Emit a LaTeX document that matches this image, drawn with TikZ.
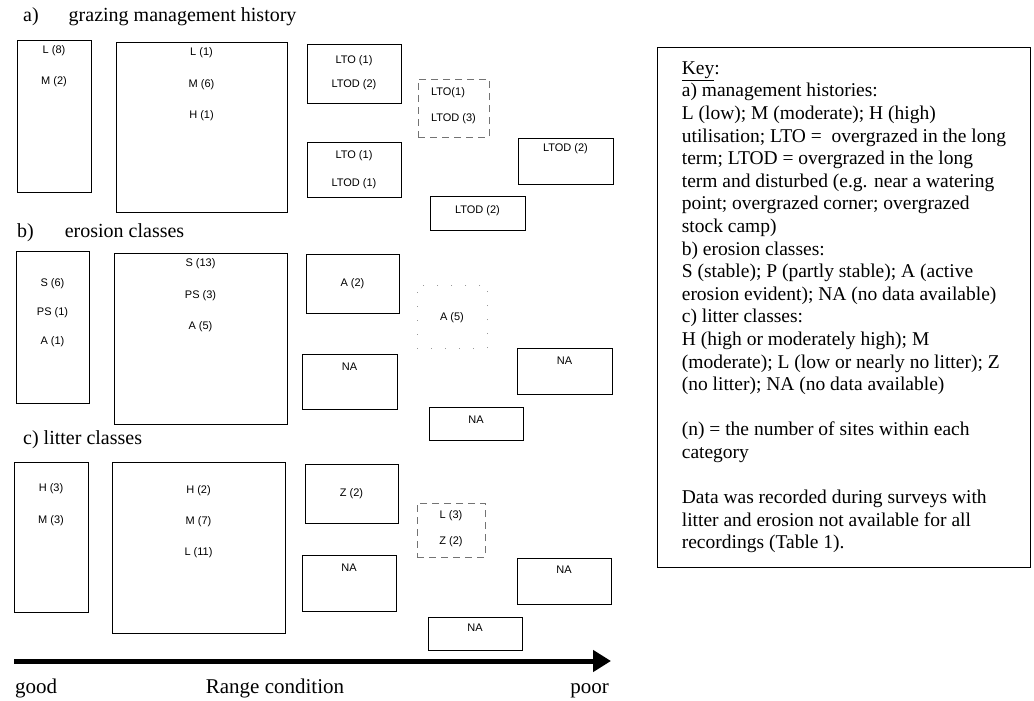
\documentclass[tikz,border=0pt]{standalone}
\usepackage{fontspec}
\setmainfont{Liberation Serif}
\newfontfamily\tallyfont{Liberation Sans}
\usetikzlibrary{arrows.meta}

\tikzset{%
  site/.style={draw, line width=0.9pt, inner sep=0pt},%
  faint/.style={site, draw=black!55, dash pattern=on 7pt off 5pt},%
  ghost/.style={site, draw=black!40, dash pattern=on 1pt off 13pt},%
  tally/.style={inner sep=0pt, anchor=north, align=center},%
  heading/.style={anchor=base west, inner sep=0pt, font=\fontsize{20}{24}\selectfont},%
  axislabel/.style={anchor=base, inner sep=0pt, font=\fontsize{21}{25}\selectfont},%
  axis/.style={line width=5pt, -{Triangle[length=18pt,width=21pt]}},%
  keybox/.style={draw, line width=0.9pt, anchor=north west, align=left,%
    minimum width=373pt, inner xsep=20pt, inner ysep=14pt,%
    font=\fontsize{19.5}{22.6}\selectfont}%
}

\begin{document}
\begin{tikzpicture}[x=1pt,y=-1pt]%
  \path[fill=white,use as bounding box] (0,0) rectangle (1034,701);%
  % Panel headings
  \node[heading] (head-a) at (23,22) {a)\hspace{30pt}grazing management history};%
  \node[heading] (head-b) at (17,237) {b)\hspace{31pt}erosion classes};%
  \node[heading] (head-c) at (23,444) {c) litter classes};%
  % Solid boxes: name/x/y/width/height/drop/skip/text
  \foreach \id/\cx/\cy/\bw/\bh/\drop/\skp/\txt in {%
      a1/54/116/74/152/6/31/{L (8)\\M (2)},%
      a2/201.5/127/171/170/6/31.5/{L (1)\\M (6)\\H (1)},%
      a3/354/73.5/94/59/12/24/{LTO (1)\\LTOD (2)},%
      a5/354/169.5/94/55/9/28/{LTO (1)\\LTOD (1)},%
      a6/565.5/161/95/46/6/28/{LTOD (2)},%
      a7/477.5/213/95/34/10/28/{LTOD (2)},%
      b1/52.5/327/73/152/28/29/{S (6)\\PS (1)\\A (1)},%
      b2/200.5/338.5/173/171/6/31.5/{S (13)\\PS (3)\\A (5)},%
      b3/352.5/283.5/93/59/25/28/{A (2)},%
      b5/349.5/381.5/95/55/9/28/{NA},%
      b6/564.5/371/95/46/9/28/{NA},%
      b7/476/423.5/94/33/9/28/{NA},%
      c1/51/537/74/150/22/32/{H (3)\\M (3)},%
      c2/198.5/547.5/173/171/24/31/{H (2)\\M (7)\\L (11)},%
      c3/351.5/493.5/93/59/25/28/{Z (2)},%
      c5/349/583/94/56/9/28/{NA},%
      c6/564/581/94/46/8/28/{NA},%
      c7/475/633.5/94/33/7/28/{NA}%
    } {%
      \node[site, minimum width=\bw pt, minimum height=\bh pt] (\id) at (\cx,\cy) {};%
      \node[tally, font=\tallyfont\fontsize{11pt}{\skp pt}\selectfont]%
        (\id-n) at ([yshift=-\drop pt]\id.north) {\txt};%
    };%
  % Dashed boxes (uncertain groups)
  \node[faint, minimum width=71pt, minimum height=58pt] (a4) at (453.5,108) {};%
  \node[tally, align=left, font=\tallyfont\fontsize{11pt}{26pt}\selectfont]%
    (a4-n) at ([yshift=-9pt]a4.north) {LTO(1)\\LTOD (3)};%
  \node[ghost, minimum width=70pt, minimum height=63pt] (b4) at (452,316.5) {};%
  \node[tally, font=\tallyfont\fontsize{11pt}{26pt}\selectfont]%
    (b4-n) at ([yshift=-28pt]b4.north) {A (5)};%
  \node[faint, minimum width=68pt, minimum height=54pt] (c4) at (451,530) {};%
  \node[tally, font=\tallyfont\fontsize{11pt}{26pt}\selectfont]%
    (c4-n) at ([yshift=-8pt]c4.north) {L (3)\\Z (2)};%
  % Range condition axis
  \coordinate (axis-start) at (14,661);%
  \coordinate (axis-end) at (611,661);%
  \draw[axis] (axis-start) -- (axis-end);%
  \node[axislabel, anchor=base west] (good) at (15,693) {good};%
  \node[axislabel] (range) at (275,693) {Range condition};%
  \node[axislabel, anchor=base east] (poor) at (609,693) {poor};%
  % Key
  \node[keybox] (key) at (657,47) {%
    \underline{Key}:\\%
    a) management histories:\\%
    L (low); M (moderate); H (high)\\%
    utilisation; LTO =\ \ overgrazed in the long\\%
    term; LTOD = overgrazed in the long\\%
    term and disturbed (e.g. near a watering\\%
    point; overgrazed corner; overgrazed\\%
    stock camp)\\%
    b) erosion classes:\\%
    S (stable); P (partly stable); A (active\\%
    erosion evident); NA (no data available)\\%
    c) litter classes:\\%
    H (high or moderately high); M\\%
    (moderate); L (low or nearly no litter); Z\\%
    (no litter); NA (no data available)\\[22.6pt]%
    (n) = the number of sites within each\\%
    category\\[22.6pt]%
    Data was recorded during surveys with\\%
    litter and erosion not available for all\\%
    recordings (Table 1).};%
\end{tikzpicture}
\end{document}
